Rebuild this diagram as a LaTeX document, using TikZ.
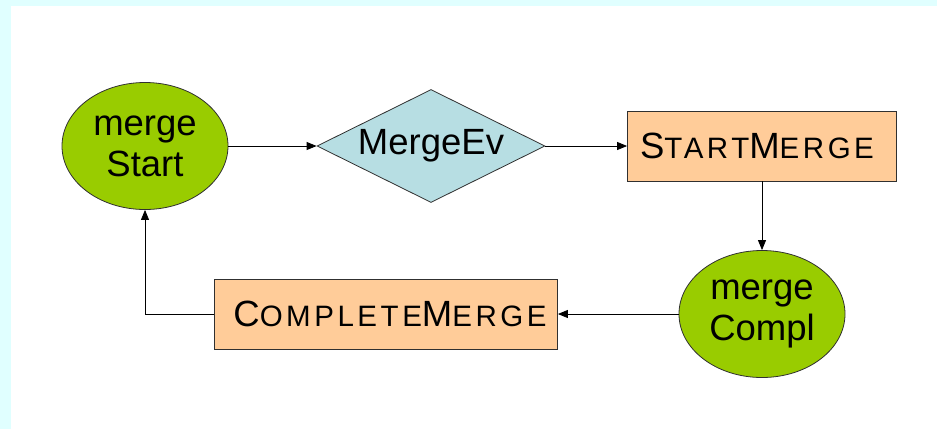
\documentclass[tikz,border=0pt]{standalone}
\usepackage{fontspec}
\setmainfont{Liberation Sans}
\newfontfamily\spacedfont[LetterSpace=12]{Liberation Sans}
\usetikzlibrary{shapes.geometric,arrows.meta}

\definecolor{pagecyan}{HTML}{E0FFFF}
\definecolor{stategreen}{HTML}{99CC00}
\definecolor{eventblue}{HTML}{B7DEE3}
\definecolor{actionpeach}{HTML}{FFCC99}
\definecolor{edgegray}{HTML}{303030}

% small-caps style word: full-size initial letters, reduced others
\newcommand{\capletter}[1]{{\fontsize{36.5}{41}\selectfont #1}}
\newcommand{\lowletters}[1]{{\fontsize{29.5}{41}\selectfont #1}}

\tikzset{
  state/.style={ellipse, draw=edgegray, fill=stategreen, line width=0.8pt,
    minimum width=166, minimum height=127, inner sep=0pt, align=center,
    font=\fontsize{36.5}{41}\selectfont},
  event/.style={diamond, aspect=2, draw=edgegray, fill=eventblue, line width=0.8pt,
    minimum width=228, minimum height=113, inner sep=0pt,
    font=\fontsize{36.5}{41}\selectfont},
  action/.style={rectangle, draw=edgegray, fill=actionpeach, line width=0.8pt,
    minimum height=70, inner sep=0pt, font=\spacedfont},
  flow/.style={draw=black, line width=0.8pt,
    -{Triangle[length=10pt,width=8pt]}},
}

\begin{document}
\begin{tikzpicture}[x=1pt,y=-1pt]
  % page frame
  \fill[pagecyan] (0,0) rectangle (937,429);
  \fill[white] (11,6) rectangle (937,429);
  \useasboundingbox (0,0) rectangle (937,429);

  \node[state] (mstart) at (145,146) {merge\\Start};
  \node[event] (mev) at (431,146) {MergeEv};
  \node[action, minimum width=269] (smerge) at (762,146)
    {\capletter{S}\lowletters{TART}\capletter{M}\lowletters{ERGE}\hspace*{10pt}};
  \node[state] (mcompl) at (762,314) {merge\\Compl};
  \node[action, minimum width=343] (cmerge) at (386,314)
    {\hspace*{8pt}\capletter{C}\lowletters{OMPLETE}\capletter{M}\lowletters{ERGE}};

  \draw[flow] (mstart) -- (mev);
  \draw[flow] (mev) -- (smerge);
  \draw[flow] (smerge) -- (mcompl);
  \draw[flow] (mcompl) -- (cmerge);
  \draw[flow] (cmerge.west) -| (mstart.south);
\end{tikzpicture}
\end{document}
